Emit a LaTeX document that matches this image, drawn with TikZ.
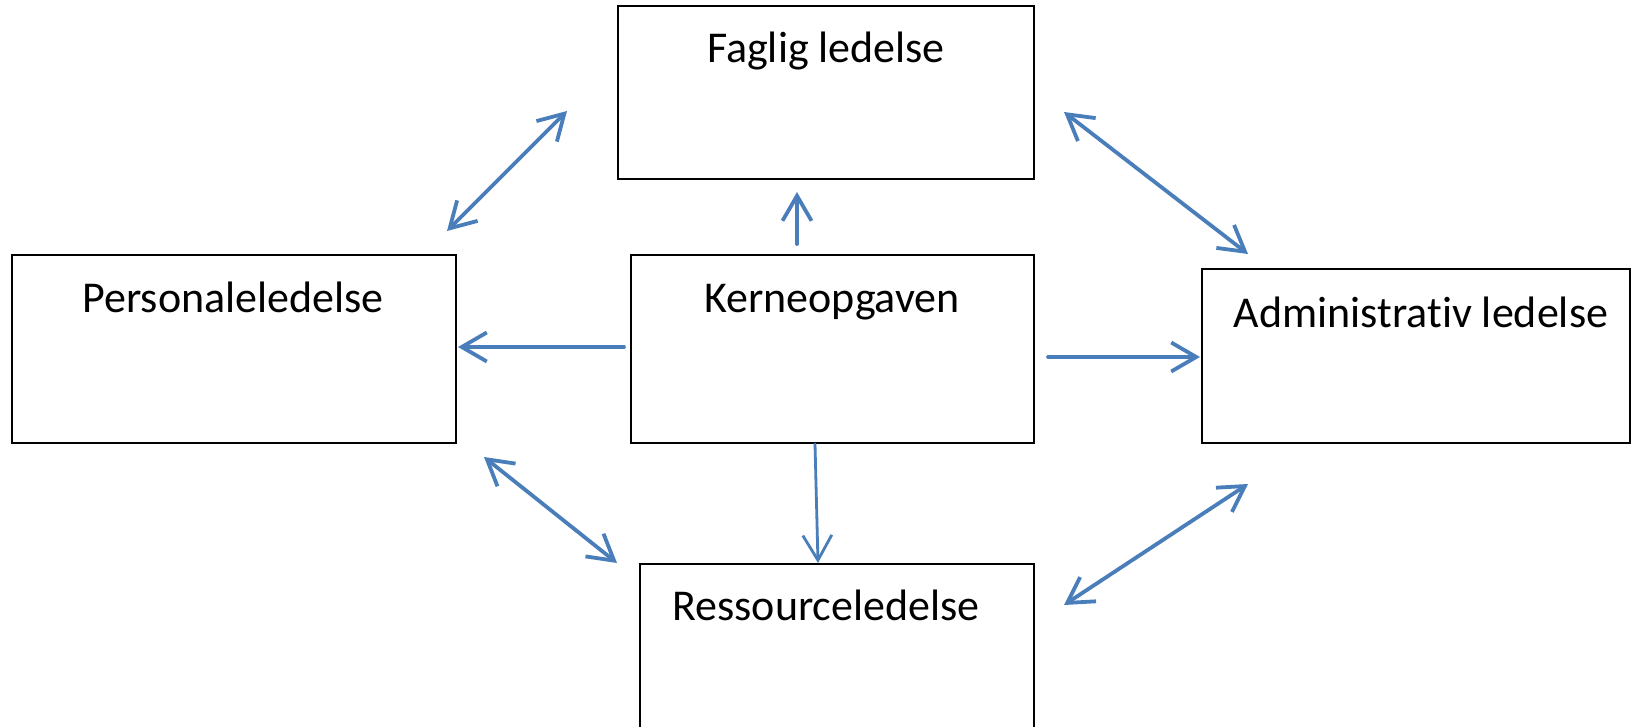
\documentclass[tikz,border=0pt]{standalone}
\usepackage{fontspec}
\setmainfont[RawFeature={-liga;-calt;-clig}]{Carlito}
\usetikzlibrary{arrows.meta}
\definecolor{arrowblue}{RGB}{74,126,187}
\tikzset{
  box/.style={draw=black, line width=2pt, fill=white},
  lbl/.style={anchor=base, inner sep=0pt, font=\fontsize{44}{53}\selectfont},
  link/.style={draw=arrowblue, line width=3.8pt, line cap=round,
    arrows={Straight Barb[length=25pt,width=29pt]-Straight Barb[length=25pt,width=29pt]}},
  onelink/.style={draw=arrowblue, line width=3.8pt, line cap=round,
    arrows={-Straight Barb[length=25pt,width=29pt]}}
}
\begin{document}
\begin{tikzpicture}[x=1pt,y=-1pt]
\useasboundingbox (0,0) rectangle (1632,727);
\clip (0,0) rectangle (1632,727);
\fill[white] (0,0) rectangle (1632,727);
% boxes
\draw[box] (618,6) rectangle (1034,179);
\draw[box] (12,255) rectangle (456,443);
\draw[box] (631,255) rectangle (1034,443);
\draw[box] (1202,269) rectangle (1630,443);
\draw[box] (640,564) rectangle (1034,760);
\node[lbl] (faglig) at (826,63) {Faglig ledelse};
\node[lbl] (personale) at (233,312) {Personaleledelse};
\node[lbl] (kerne) at (832,312) {Kerneopgaven};
\node[lbl] (admin) at (1421,327) {Administrativ ledelse};
\node[lbl] (ressource) at (826,620) {Ressourceledelse};
% arrow end points
\coordinate (pf1) at (447,231);
\coordinate (pf2) at (567,111);
\coordinate (fa1) at (1064,112);
\coordinate (fa2) at (1248,254);
\coordinate (kf1) at (797,244);
\coordinate (kf2) at (797,192);
\coordinate (kp1) at (624,347);
\coordinate (kp2) at (458,347);
\coordinate (ka1) at (1048,357);
\coordinate (ka2) at (1200,357);
\coordinate (kr1) at (815,444);
\coordinate (kr2) at (818,563);
\coordinate (pr1) at (484,457);
\coordinate (pr2) at (617,563);
\coordinate (ar1) at (1248,484);
\coordinate (ar2) at (1064,605);
% arrows
\draw[link] (pf1) -- (pf2);
\draw[link] (fa1) -- (fa2);
\draw[onelink] (kf1) -- (kf2);
\draw[onelink] (kp1) -- (kp2);
\draw[onelink] (ka1) -- (ka2);
\draw[onelink, line width=2.8pt] (kr1) -- (kr2);
\draw[link] (pr1) -- (pr2);
\draw[link] (ar1) -- (ar2);
\end{tikzpicture}
\end{document}
